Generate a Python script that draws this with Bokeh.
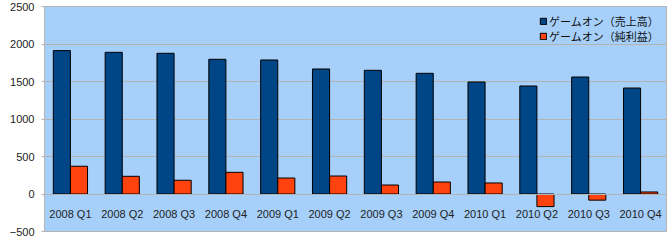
from bokeh.plotting import figure
from bokeh.models import Range1d, FactorRange, CategoricalAxis, Legend, LegendItem, ColumnDataSource
from bokeh.transform import dodge
from bokeh.embed import file_html
from bokeh.resources import INLINE

quarters = ["2008 Q1", "2008 Q2", "2008 Q3", "2008 Q4",
            "2009 Q1", "2009 Q2", "2009 Q3", "2009 Q4",
            "2010 Q1", "2010 Q2", "2010 Q3", "2010 Q4"]
sales = [1912, 1889, 1876, 1796, 1787, 1667, 1649, 1609, 1493, 1440, 1560, 1413]
profit = [370, 236, 183, 289, 213, 240, 120, 160, 147, -168, -82, 27]
series_names = ["ゲームオン（売上高）", "ゲームオン（純利益）"]
colors = ["#004586", "#ff420e"]

src = ColumnDataSource(dict(q=quarters, sales=sales, profit=profit))

p = figure(width=670, height=242, output_backend="svg", toolbar_location=None,
           x_range=FactorRange(factors=quarters, range_padding=0),
           y_range=Range1d(-500, 2500),
           min_border_left=44, min_border_right=4, min_border_top=6, min_border_bottom=11,
           x_axis_location=None)
p.background_fill_color = "#a6d0fa"
p.border_fill_color = "white"
p.outline_line_color = "#b3b3b3"
p.xgrid.grid_line_color = None
p.ygrid.grid_line_color = "#b3b3b3"
p.ygrid.grid_line_width = 1

p.yaxis.ticker = [-500, 0, 500, 1000, 1500, 2000, 2500]
p.yaxis.axis_line_color = "#b3b3b3"
p.yaxis.major_tick_line_color = "#b3b3b3"
p.yaxis.major_tick_out = 3
p.yaxis.major_tick_in = 0
p.yaxis.minor_tick_line_color = None
p.yaxis.major_label_standoff = 7
p.yaxis.major_label_text_font = "Liberation Sans"
p.yaxis.major_label_text_font_size = "11px"
p.yaxis.major_label_text_color = "#222222"

xa = CategoricalAxis(fixed_location=0)
xa.axis_line_color = "#b3b3b3"
xa.major_tick_line_color = None
xa.major_label_standoff = 8
xa.major_label_text_font = "Liberation Sans"
xa.major_label_text_font_size = "11px"
xa.major_label_text_color = "#222222"
p.add_layout(xa, "below")

r1 = p.vbar(x=dodge("q", -0.165, range=p.x_range), top="sales", bottom=0, width=0.33,
            source=src, fill_color=colors[0], line_color="black", line_width=1)
r2 = p.vbar(x=dodge("q", 0.165, range=p.x_range), top="profit", bottom=0, width=0.33,
            source=src, fill_color=colors[1], line_color="black", line_width=1)

def make_legend(label, rend, loc):
    lg = Legend(items=[LegendItem(label=label, renderers=[rend])], location=loc)
    lg.background_fill_alpha = 0
    lg.border_line_color = None
    lg.glyph_width = 8
    lg.glyph_height = 8
    lg.label_standoff = 2
    lg.spacing = 0
    lg.padding = 0
    lg.margin = 0
    lg.label_text_font = "Noto Sans CJK JP"
    lg.label_text_font_size = "11px"
    lg.label_text_color = "#111111"
    lg.label_height = 12
    return lg

p.add_layout(make_legend(series_names[0], r1, (495, 202)), "center")
p.add_layout(make_legend(series_names[1], r2, (495, 187)), "center")

open("out.html", "w").write(file_html(p, INLINE))
